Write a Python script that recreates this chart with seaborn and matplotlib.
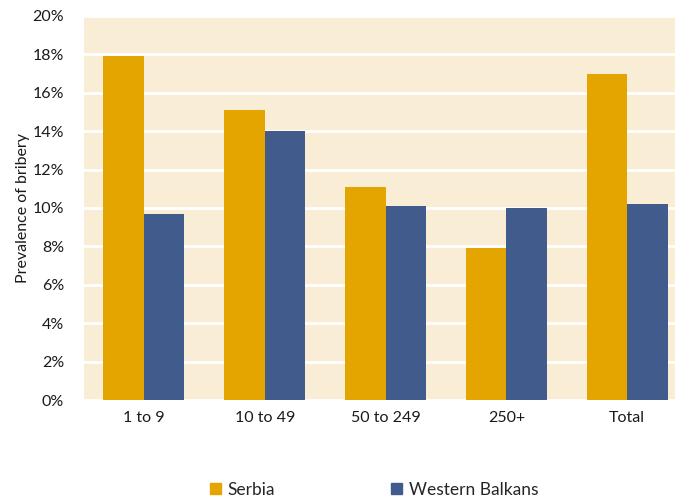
import numpy as np
import pandas as pd
import matplotlib.pyplot as plt
import seaborn as sns
from matplotlib.ticker import PercentFormatter

# Bribery prevalence by company size
categories = ['1 to 9', '10 to 49', '50 to 249', '250+', 'Total']
serbia = [17.9, 15.1, 11.1, 7.9, 17.0]
western_balkans = [9.7, 14.0, 10.1, 10.0, 10.2]
series = ['Serbia', 'Western Balkans']
colors = ['#E5A500', '#415B8D']

df = pd.DataFrame({
    'size': categories * 2,
    'value': serbia + western_balkans,
    'region': [series[0]] * len(categories) + [series[1]] * len(categories),
})

sns.set_style('white')
plt.rcParams['font.family'] = ['Lato', 'DejaVu Sans']

fig = plt.figure(figsize=(6.75, 5.04), dpi=100)
ax = fig.add_axes([83.5 / 675, 1 - 400 / 504, 604 / 675, 384 / 504])
ax.set_facecolor('#FAEDD5')

sns.barplot(data=df, x='size', y='value', hue='region', palette=colors,
            width=0.67, saturation=1, linewidth=0, ax=ax, legend=False)

ax.set_ylim(0, 20)
ax.set_yticks(np.arange(0, 21, 2))
ax.yaxis.set_major_formatter(PercentFormatter(decimals=0))
ax.yaxis.grid(True, color='white', linewidth=2)
ax.set_axisbelow(True)
for s in ax.spines.values():
    s.set_visible(False)
ax.tick_params(axis='both', length=0, labelsize=11.5, colors='#1a1a1a')
ax.tick_params(axis='y', pad=14)
ax.tick_params(axis='x', pad=8)
ax.set_xlabel('')
ax.set_ylabel('Prevalence of bribery', fontsize=11.5, color='#1a1a1a', labelpad=2)

handles = [plt.Rectangle((0, 0), 1, 1, color=c) for c in colors]
fig.legend(handles, series, loc='center', bbox_to_anchor=(0.5545, 1 - 490 / 504),
           ncol=2, frameon=False, fontsize=12.5, handlelength=0.6, handleheight=0.6,
           handletextpad=0.4, columnspacing=6.7)

fig.savefig('out.png', dpi=100)
